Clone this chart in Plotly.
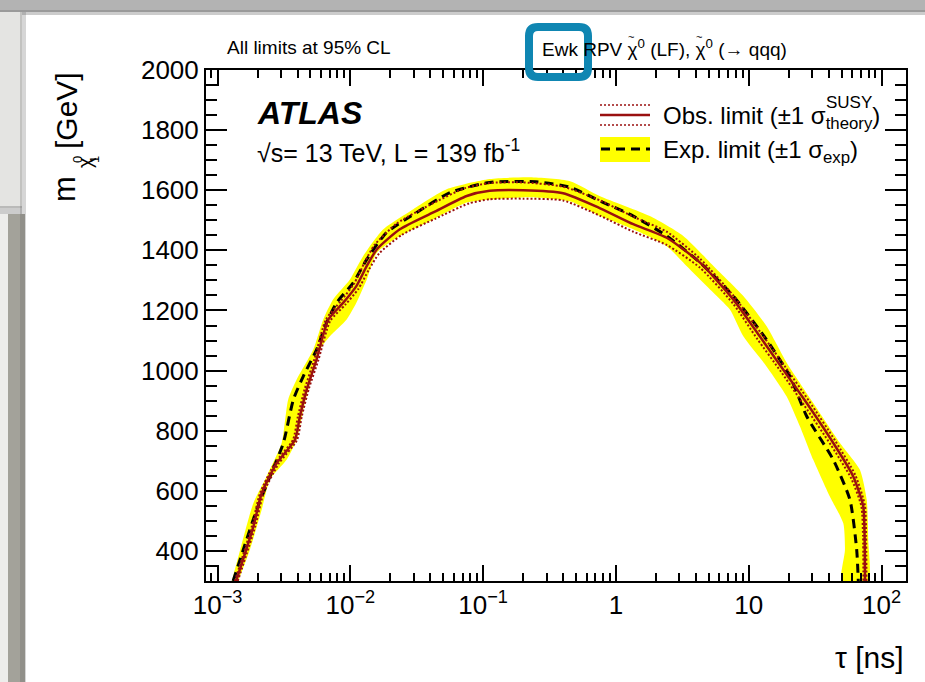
import plotly.graph_objects as go

# ---- data: limit contours in the (tau [ns], neutralino mass [GeV]) plane ----
obs_tau = [0.00138, 0.00186, 0.00215, 0.00279, 0.00383, 0.00417, 0.00469, 0.00557, 0.00682,
           0.00885, 0.0111, 0.0133, 0.0158, 0.0236, 0.0421, 0.0752, 0.112, 0.2, 0.4, 0.76,
           1.35, 2.41, 4.30, 7.64, 12.1, 18.2, 27.3, 43.3, 61.2, 72.8, 74.5, 75.0]
obs_m = [300, 481, 592, 692, 770, 848, 937, 1037, 1170,
         1226, 1281, 1348, 1403, 1470, 1526, 1581, 1598, 1600, 1590, 1540,
         1487, 1442, 1359, 1237, 1114, 1003, 892, 759, 648, 548, 450, 300]

obs_up_tau = [0.00135, 0.00181, 0.00209, 0.00270, 0.00370, 0.00403, 0.00452, 0.00535, 0.00655,
              0.0085, 0.0107, 0.0128, 0.0152, 0.0225, 0.040, 0.072, 0.112, 0.2, 0.4, 0.76,
              1.35, 2.41, 4.30, 7.64, 12.6, 19.0, 28.5, 45.0, 63.5, 75.0, 76.5, 77.0]
obs_up_m = [300, 481, 592, 692, 770, 848, 937, 1037, 1170,
            1232, 1290, 1360, 1418, 1490, 1552, 1606, 1624, 1626, 1612, 1566,
            1512, 1462, 1372, 1250, 1120, 1010, 898, 765, 652, 550, 450, 300]

obs_dn_tau = [0.00142, 0.00192, 0.00222, 0.00288, 0.00396, 0.00431, 0.00485, 0.00576, 0.00705,
              0.0092, 0.0115, 0.0138, 0.0165, 0.0245, 0.0435, 0.078, 0.112, 0.2, 0.4, 0.76,
              1.35, 2.41, 4.30, 7.64, 11.6, 17.5, 26.2, 41.6, 59.0, 70.5, 72.5, 73.0]
obs_dn_m = [300, 481, 592, 690, 768, 848, 937, 1037, 1165,
            1220, 1272, 1336, 1390, 1452, 1505, 1556, 1570, 1572, 1566, 1515,
            1462, 1418, 1342, 1222, 1105, 996, 884, 752, 642, 548, 450, 300]

exp_tau = [0.00131, 0.00156, 0.00197, 0.00248, 0.00313, 0.00372, 0.00442, 0.00557, 0.00662,
           0.00789, 0.0105, 0.0133, 0.0187, 0.0316, 0.0562, 0.112, 0.25, 0.45, 0.76,
           1.35, 2.41, 4.30, 7.64, 13.6, 20.4, 27.3, 43.3, 57.8, 65.0, 66.8]
exp_m = [300, 403, 537, 648, 759, 903, 981, 1070, 1159,
         1226, 1292, 1370, 1459, 1526, 1592, 1626, 1628, 1610, 1564,
         1514, 1448, 1359, 1248, 1103, 981, 848, 703, 570, 403, 300]

# +/-1 sigma expected band: outer and inner edges
band_out_tau = [0.00128, 0.00148, 0.00186, 0.00234, 0.00304, 0.00340, 0.00394, 0.00526, 0.00625,
                0.00743, 0.00993, 0.0125, 0.0177, 0.0298, 0.0531, 0.112, 0.225, 0.451, 0.759,
                1.80, 3.21, 5.73, 9.10, 13.6, 19.3, 30.6, 48.6, 68.7, 77.3, 79.4, 79.4]
band_out_m = [300, 403, 559, 648, 759, 903, 970, 1070, 1170,
              1237, 1303, 1381, 1470, 1537, 1603, 1637, 1643, 1630, 1580,
              1514, 1448, 1337, 1248, 1148, 1026, 892, 759, 670, 570, 437, 300]

band_in_tau = [0.00143, 0.00175, 0.00215, 0.00248, 0.00331, 0.00394, 0.00442, 0.00497, 0.00590,
               0.00701, 0.00938, 0.0111, 0.0133, 0.0158, 0.0236, 0.0421, 0.0752, 0.119, 0.225,
               0.451, 0.759, 1.35, 2.41, 3.40, 5.11, 7.21, 9.10, 13.6, 19.3, 24.3, 30.6,
               40.8, 51.5, 53.0, 50.1]
band_in_m = [300, 403, 537, 637, 703, 770, 870, 959, 1070,
             1114, 1170, 1226, 1303, 1392, 1448, 1503, 1559, 1570, 1577,
             1563, 1514, 1470, 1414, 1348, 1270, 1203, 1114, 1014, 914, 814, 703,
             581, 492, 403, 300]

x_tick_vals = [1e-3, 1e-2, 1e-1, 1, 10, 100]
x_tick_text = ["10<sup>\u22123</sup>", "10<sup>\u22122</sup>", "10<sup>\u22121</sup>", "1", "10",
               "10<sup>2</sup>"]
y_tick_vals = [400, 600, 800, 1000, 1200, 1400, 1600, 1800, 2000]

# ---- page geometry (pixels) ----
W, H = 925, 682
L, R, T, B = 206, 906, 70, 581
FONT = "Liberation Sans, Arial, Helvetica, sans-serif"
RED = "#9a1010"


def px(x):
    return (x - L) / (R - L)


def py(y):
    return (B - y) / (B - T)


fig = go.Figure()

band_x = band_out_tau + band_in_tau[::-1]
band_y = band_out_m + band_in_m[::-1]
fig.add_trace(go.Scatter(x=band_x, y=band_y, mode="lines", fill="toself",
                         fillcolor="#ffff00", line=dict(width=0, shape="spline", smoothing=0.6),
                         hoverinfo="skip", showlegend=False))
fig.add_trace(go.Scatter(x=exp_tau, y=exp_m, mode="lines",
                         line=dict(color="black", width=3, dash="9px,6px",
                                   shape="spline", smoothing=0.6),
                         showlegend=False))
for tx, my in ((obs_up_tau, obs_up_m), (obs_dn_tau, obs_dn_m)):
    fig.add_trace(go.Scatter(x=tx, y=my, mode="lines",
                             line=dict(color=RED, width=2, dash="2px,2px",
                                       shape="spline", smoothing=0.6),
                             showlegend=False))
fig.add_trace(go.Scatter(x=obs_tau, y=obs_m, mode="lines",
                         line=dict(color=RED, width=2.5, shape="spline", smoothing=0.6),
                         showlegend=False))

# minor ticks on the log axis: 2..9 in every decade
x_minor = [m * 10.0 ** e for e in range(-4, 3) for m in range(2, 10)]
x_minor = [v for v in x_minor if 8.2e-4 < v < 152]

fig.update_xaxes(type="log", range=[-3.087, 2.184],
                 tickvals=x_tick_vals, ticktext=x_tick_text,
                 ticks="inside", ticklen=16, tickwidth=2, tickcolor="black",
                 showline=True, linewidth=2, linecolor="black", mirror="ticks",
                 showgrid=False, zeroline=False,
                 tickfont=dict(family=FONT, size=26, color="black"),
                 minor=dict(tickvals=x_minor, ticks="inside", ticklen=8, tickwidth=2,
                            tickcolor="black", showgrid=False))
fig.update_yaxes(range=[300, 2000], tickvals=y_tick_vals,
                 ticks="inside", ticklen=21, tickwidth=2, tickcolor="black",
                 showline=True, linewidth=2, linecolor="black", mirror="ticks",
                 showgrid=False, zeroline=False,
                 tickfont=dict(family=FONT, size=26, color="black"),
                 minor=dict(dtick=50, ticks="inside", ticklen=11, tickwidth=2,
                            tickcolor="black", showgrid=False))

shapes = []
# surrounding window frame
shapes.append(dict(type="rect", xref="paper", yref="paper", x0=px(0), x1=px(W), y0=py(0), y1=py(12),
                   fillcolor="#b3b3b3", line=dict(width=0), layer="below"))
shapes.append(dict(type="rect", xref="paper", yref="paper", x0=px(0), x1=px(W), y0=py(10), y1=py(15),
                   fillcolor="rgba(110,110,110,0.35)", line=dict(width=0), layer="below"))
shapes.append(dict(type="rect", xref="paper", yref="paper", x0=px(0), x1=px(22), y0=py(12), y1=py(208),
                   fillcolor="#e4e4e2", line=dict(width=0), layer="below"))
shapes.append(dict(type="rect", xref="paper", yref="paper", x0=px(0), x1=px(22), y0=py(206), y1=py(214),
                   fillcolor="rgba(110,110,110,0.35)", line=dict(width=0), layer="below"))
shapes.append(dict(type="rect", xref="paper", yref="paper", x0=px(0), x1=px(8), y0=py(214), y1=py(H),
                   fillcolor="#ededeb", line=dict(width=0), layer="below"))
shapes.append(dict(type="rect", xref="paper", yref="paper", x0=px(8), x1=px(25), y0=py(214), y1=py(H),
                   fillcolor="#a3a29a", line=dict(width=0), layer="below"))
shapes.append(dict(type="rect", xref="paper", yref="paper", x0=px(20), x1=px(26), y0=py(12), y1=py(H),
                   fillcolor="rgba(90,90,90,0.25)", line=dict(width=0), layer="below"))

# legend symbols
shapes.append(dict(type="line", xref="paper", yref="paper", x0=px(600), x1=px(650), y0=py(105), y1=py(105),
                   line=dict(color=RED, width=1.5, dash="2px,2px")))
shapes.append(dict(type="line", xref="paper", yref="paper", x0=px(600), x1=px(650), y0=py(115), y1=py(115),
                   line=dict(color=RED, width=2.5)))
shapes.append(dict(type="line", xref="paper", yref="paper", x0=px(600), x1=px(650), y0=py(125), y1=py(125),
                   line=dict(color=RED, width=1.5, dash="2px,2px")))
shapes.append(dict(type="rect", xref="paper", yref="paper", x0=px(600), x1=px(650), y0=py(137), y1=py(162),
                   fillcolor="#ffff00", line=dict(width=0)))
shapes.append(dict(type="line", xref="paper", yref="paper", x0=px(601), x1=px(650), y0=py(149), y1=py(149),
                   line=dict(color="black", width=3, dash="9px,6px")))

# rounded highlight box
bx0, bx1, by0, by1, rr = 529, 588, 27, 77, 9
path = (f"M{px(bx0 + rr)},{py(by0)} L{px(bx1 - rr)},{py(by0)} "
        f"Q{px(bx1)},{py(by0)} {px(bx1)},{py(by0 + rr)} L{px(bx1)},{py(by1 - rr)} "
        f"Q{px(bx1)},{py(by1)} {px(bx1 - rr)},{py(by1)} L{px(bx0 + rr)},{py(by1)} "
        f"Q{px(bx0)},{py(by1)} {px(bx0)},{py(by1 - rr)} L{px(bx0)},{py(by0 + rr)} "
        f"Q{px(bx0)},{py(by0)} {px(bx0 + rr)},{py(by0)} Z")
shapes.append(dict(type="path", xref="paper", yref="paper", path=path,
                   line=dict(color="#0f86b2", width=8), fillcolor="rgba(0,0,0,0)"))

ann = []


def text(x, y, s, size, xanchor="left", yanchor="middle", angle=0):
    ann.append(dict(x=px(x), y=py(y), xref="paper", yref="paper", text=s, showarrow=False,
                    xanchor=xanchor, yanchor=yanchor, textangle=angle,
                    font=dict(family=FONT, size=size, color="black")))


text(225, 48, "All limits at 95% CL", 19)
text(540, 48, "Ewk RPV \u03c7<sup>0</sup> (LF), \u03c7<sup>0</sup> (\u2192 qqq)", 19)
# tildes over the two chi symbols
text(631, 37, "~", 11, xanchor="center")
text(699, 37, "~", 11, xanchor="center")
text(255, 113, "<b><i>ATLAS</i></b>", 32)
text(255, 151, "\u221as= 13 TeV, L = 139 fb<sup>-1</sup>", 25)
text(661, 117, "Obs. limit (\u00b11 \u03c3<sub>theory</sub>)", 24)
text(824, 102, "SUSY", 17)
text(661, 151, "Exp. limit (\u00b11 \u03c3<sub>exp</sub>)", 24)
text(906, 657, "\u03c4 [ns]", 30, xanchor="right")

# y-axis title, assembled from pieces (rotated)
text(64, 189, "m", 31, xanchor="center", angle=-90)
text(85, 163, "\u03c7", 20, xanchor="center", angle=-90)
text(77, 160, "0", 13, xanchor="center", angle=-90)
text(94, 160, "1", 13, xanchor="center", angle=-90)
text(66, 111, "[GeV]", 30, xanchor="center", angle=-90)

fig.update_layout(width=W, height=H, margin=dict(l=L, r=W - R, t=T, b=H - B),
                  paper_bgcolor="white", plot_bgcolor="white",
                  shapes=shapes, annotations=ann, showlegend=False)

fig.write_html("out.html")
